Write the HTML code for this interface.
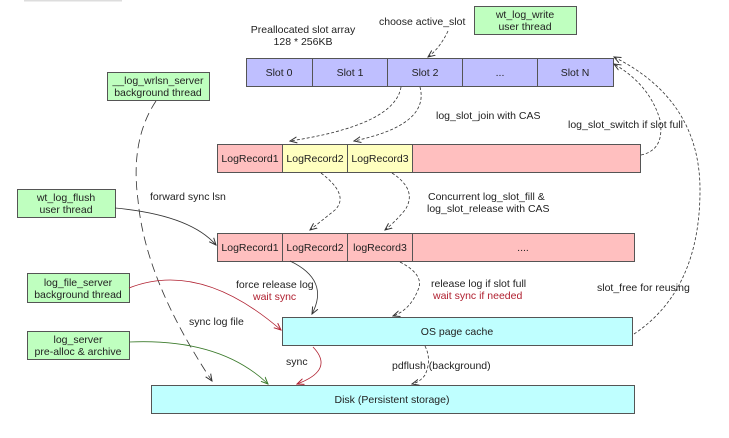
<!DOCTYPE html>
<html><head><meta charset="utf-8"><style>
html,body{margin:0;padding:0;background:#fff;}
svg{display:block;}
text{font-family:"Liberation Sans",Arial,sans-serif;font-size:10.5px;fill:#222;}
.c{text-anchor:middle;}
.r{fill:#b02030;}
</style></head><body>
<svg width="729" height="438" viewBox="0 0 729 438" xmlns="http://www.w3.org/2000/svg">
<defs>
<marker id="a" markerWidth="8" markerHeight="8" refX="7" refY="4" orient="auto" markerUnits="userSpaceOnUse"><path d="M0,1 L7,4 L0,7" fill="none" stroke="#333" stroke-width="1"/></marker>
<marker id="ar" markerWidth="8" markerHeight="8" refX="7" refY="4" orient="auto" markerUnits="userSpaceOnUse"><path d="M0,1 L7,4 L0,7" fill="none" stroke="#b02030" stroke-width="1"/></marker>
<marker id="ag" markerWidth="8" markerHeight="8" refX="7" refY="4" orient="auto" markerUnits="userSpaceOnUse"><path d="M0,1 L7,4 L0,7" fill="none" stroke="#3a7a2a" stroke-width="1"/></marker>
</defs>
<rect x="24" y="0" width="98" height="1.5" fill="#ddd"/>
<g stroke="#555" stroke-width="1">
<!-- slot array -->
<rect x="246.5" y="58.5" width="367" height="28" fill="#bfbfff"/>
<line x1="312.5" y1="58" x2="312.5" y2="86"/><line x1="387.5" y1="58" x2="387.5" y2="86"/><line x1="462.5" y1="58" x2="462.5" y2="86"/><line x1="537.5" y1="58" x2="537.5" y2="86"/>
<!-- row1 -->
<rect x="217.5" y="144.5" width="423" height="28" fill="#ffbfbf"/>
<rect x="282.5" y="144.5" width="130" height="28" fill="#ffffbf"/>
<line x1="347.5" y1="144" x2="347.5" y2="172"/>
<!-- row2 -->
<rect x="217.5" y="233.5" width="417" height="28" fill="#ffbfbf"/>
<line x1="282.5" y1="233" x2="282.5" y2="261"/><line x1="347.5" y1="233" x2="347.5" y2="261"/><line x1="412.5" y1="233" x2="412.5" y2="261"/>
<!-- cache/disk -->
<rect x="282.5" y="317.5" width="350" height="28" fill="#bfffff"/>
<rect x="151.5" y="385.5" width="483" height="28" fill="#bfffff"/>
<!-- green -->
<rect x="474.5" y="6.5" width="102" height="28" fill="#bfffbf"/>
<rect x="107.5" y="72.5" width="102" height="28" fill="#bfffbf"/>
<rect x="17.5" y="189.5" width="98" height="28" fill="#bfffbf"/>
<rect x="27.5" y="273.5" width="102" height="29" fill="#bfffbf"/>
<rect x="27.5" y="331.5" width="102" height="28" fill="#bfffbf"/>
</g>
<g fill="none" stroke="#333" stroke-width="0.8">
<!-- dashed small -->
<g stroke-dasharray="3,2">
<path d="M448,31 Q440,48 428,57" marker-end="url(#a)"/>
<path d="M401,87 Q395,125 290,141" marker-end="url(#a)"/>
<path d="M420,87 Q430,125 354,141" marker-end="url(#a)"/>
<path d="M321,173 Q350,195 335,210 Q320,222 310,230" marker-end="url(#a)"/>
<path d="M392,173 Q418,190 405,210 Q395,222 385,230" marker-end="url(#a)"/>
<path d="M400,262 Q425,275 418,290 Q410,310 393,316" marker-end="url(#a)"/>
<path d="M425,346 Q432,360 425,375 Q420,382 412,384" marker-end="url(#a)"/>
<path d="M641,155 Q665,150 660,120 Q650,85 614,64" marker-end="url(#a)"/>
<path d="M634,334 Q700,290 700,190 Q700,100 614,57" marker-end="url(#a)"/>
</g>
<!-- long dashes -->
<path d="M156,101 Q130,140 138,200 Q145,280 212,381" stroke-dasharray="9,5" marker-end="url(#a)"/>
<!-- solid -->
<path d="M115,208 Q190,215 216,245" marker-end="url(#a)"/>
<path d="M290,261 Q330,280 312,314" marker-end="url(#a)"/>
<path d="M129,288 Q200,260 281,330" stroke="#b02030" marker-end="url(#ar)"/>
<path d="M313,347 Q335,370 297,384" stroke="#b02030" marker-end="url(#ar)"/>
<path d="M129,342 Q220,338 268,384" stroke="#3a7a2a" marker-end="url(#ag)"/>
</g>
<text class="c" x="303" y="33">Preallocated slot array</text>
<text class="c" x="303" y="45">128 * 256KB</text>
<text x="379" y="25">choose active_slot</text>
<text class="c" x="525" y="18">wt_log_write</text><text class="c" x="525" y="30">user thread</text>
<text class="c" x="158" y="84">__log_wrlsn_server</text><text class="c" x="158" y="96">background thread</text>
<text class="c" x="66" y="201">wt_log_flush</text><text class="c" x="66" y="213">user thread</text>
<text class="c" x="78" y="286">log_file_server</text><text class="c" x="78" y="298">background thread</text>
<text class="c" x="78" y="343">log_server</text><text class="c" x="78" y="355">pre-alloc &amp; archive</text>
<text class="c" x="279" y="76">Slot 0</text><text class="c" x="350" y="76">Slot 1</text><text class="c" x="425" y="76">Slot 2</text><text class="c" x="500" y="76">...</text><text class="c" x="575" y="76">Slot N</text>
<text class="c" x="250" y="162">LogRecord1</text><text class="c" x="315" y="162">LogRecord2</text><text class="c" x="380" y="162">LogRecord3</text>
<text class="c" x="250" y="251">LogRecord1</text><text class="c" x="315" y="251">LogRecord2</text><text class="c" x="380" y="251">logRecord3</text><text class="c" x="523" y="251">....</text>
<text class="c" x="457" y="335">OS page cache</text>
<text class="c" x="392" y="403">Disk (Persistent storage)</text>
<text x="436" y="119">log_slot_join with CAS</text>
<text x="568" y="128">log_slot_switch if slot full</text>
<text x="150" y="200">forward sync lsn</text>
<text x="428" y="200">Concurrent log_slot_fill  &amp;</text>
<text x="427" y="212">log_slot_release with CAS</text>
<text x="236" y="288">force release log</text>
<text class="r" x="253" y="300">wait sync</text>
<text x="431" y="287">release log if slot full</text>
<text class="r" x="433" y="299">wait sync if needed</text>
<text x="597" y="291">slot_free for reusing</text>
<text x="189" y="325">sync log file</text>
<text x="286" y="365">sync</text>
<text x="392" y="369">pdflush (background)</text>
</svg>
</body></html>
